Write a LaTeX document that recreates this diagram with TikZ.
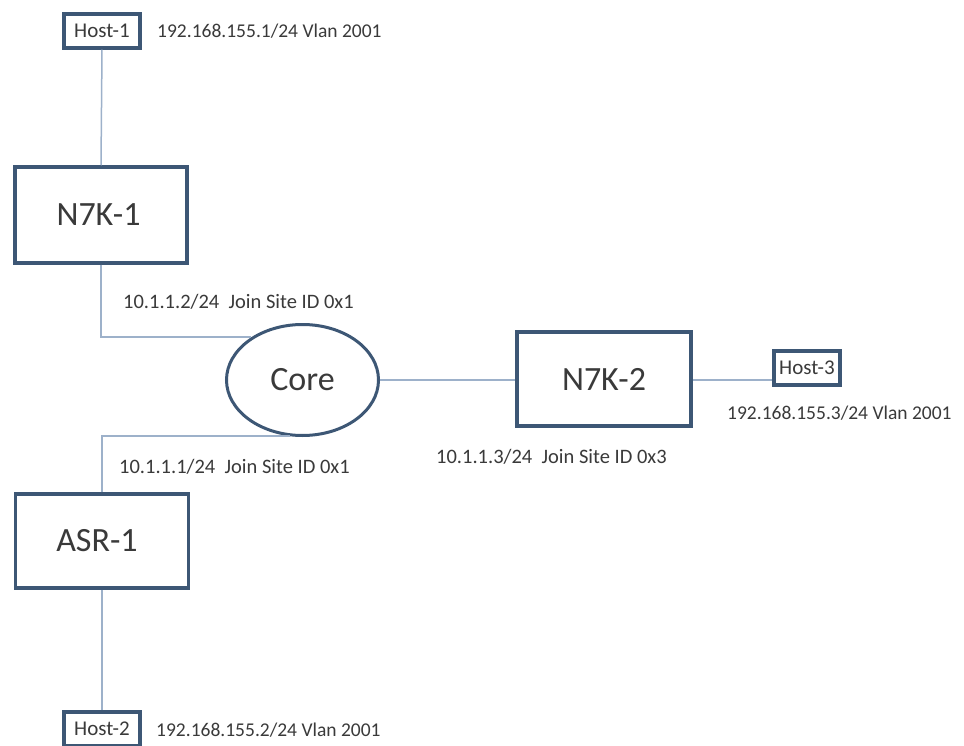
\documentclass[tikz,border=0pt]{standalone}
\usepackage{fontspec}
\setmainfont{Carlito}
\usetikzlibrary{shapes.geometric}
\definecolor{borde}{HTML}{3D5775}
\definecolor{enlace}{HTML}{9DB1CA}
\definecolor{texto}{HTML}{3A3A3A}
\begin{document}
\begin{tikzpicture}[x=1pt,y=-1pt,
    hostbox/.style={draw=borde,line width=3.5pt,fill=white,inner sep=0pt,
        minimum width=76pt,minimum height=34pt,text=texto,font=\fontsize{21}{24}\selectfont},
    switchbox/.style={draw=borde,line width=3.5pt,fill=white,inner sep=0pt,
        text=texto,font=\fontsize{34}{40}\selectfont},
    coreellipse/.style={ellipse,draw=borde,line width=3pt,fill=white,inner sep=0pt,
        minimum width=152pt,minimum height=111pt,text=texto,font=\fontsize{34}{40}\selectfont},
    link/.style={draw=enlace,line width=1.5pt},
    addr/.style={anchor=west,inner sep=0pt,text=texto,font=\fontsize{19.5}{22}\selectfont},
    joinlbl/.style={anchor=west,inner sep=0pt,text=texto,font=\fontsize{20.5}{24}\selectfont}]
    \clip (0,0) rectangle (964,746);
    \fill[white] (0,0) rectangle (964,746);

    % Posiciones
    \coordinate (h1) at (102,31);
    \coordinate (sw1) at (101,215);
    \coordinate (cr) at (302.5,380);
    \coordinate (sw2) at (604,379);
    \coordinate (h3) at (807,368);
    \coordinate (rt) at (102,541);
    \coordinate (h2) at (102,729);

    % Nodos
    \node[hostbox] (host1) at (h1) {Host-1};
    \node[switchbox,minimum width=172pt,minimum height=96pt] (n7k1) at (sw1) {\hspace*{-5pt}N7K-1};
    \node[coreellipse] (core) at (cr) {Core};
    \node[switchbox,minimum width=174pt,minimum height=94pt] (n7k2) at (sw2) {N7K-2};
    \node[hostbox,minimum width=66pt] (host3) at (h3) {Host-3};
    \node[switchbox,minimum width=173pt,minimum height=94pt] (asr1) at (rt) {\hspace*{-10pt}ASR-1};
    \node[hostbox] (host2) at (h2) {Host-2};

    % Enlaces
    \draw[link] (host1.south) -- (n7k1.north);
    \draw[link] (n7k1.south) |- (core.140);
    \draw[link] (asr1.north) |- (core.257);
    \draw[link] (core.east) -- (core.east -| n7k2.west);
    \draw[link] (n7k2.east |- 0,380) -- (host3.west |- 0,380);
    \draw[link] (asr1.south) -- (host2.north);

    % Direcciones
    \node[addr] (addr1) at (157,31) {192.168.155.1/24 Vlan 2001};
    \node[joinlbl] (join1) at (123,302) {10.1.1.2/24\ \ Join Site ID 0x1};
    \node[joinlbl] (join2) at (119,467) {10.1.1.1/24\ \ Join Site ID 0x1};
    \node[joinlbl] (join3) at (436,457) {10.1.1.3/24\ \ Join Site ID 0x3};
    \node[addr] (addr3) at (727,413) {192.168.155.3/24 Vlan 2001};
    \node[addr] (addr2) at (156,730) {192.168.155.2/24 Vlan 2001};
\end{tikzpicture}
\end{document}
